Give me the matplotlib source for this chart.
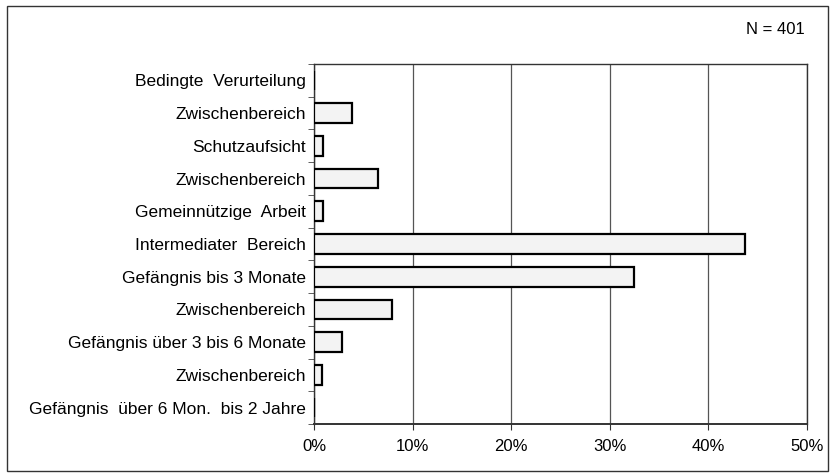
import matplotlib
matplotlib.use("Agg")
import matplotlib.pyplot as plt
import numpy as np
from matplotlib.patches import Rectangle

categories = [
    "Bedingte  Verurteilung",
    "Zwischenbereich",
    "Schutzaufsicht",
    "Zwischenbereich",
    "Gemeinnützige  Arbeit",
    "Intermediater  Bereich",
    "Gefängnis bis 3 Monate",
    "Zwischenbereich",
    "Gefängnis über 3 bis 6 Monate",
    "Zwischenbereich",
    "Gefängnis  über 6 Mon.  bis 2 Jahre",
]
values = [0.0, 3.9, 0.9, 6.5, 0.9, 43.7, 32.5, 7.9, 2.8, 0.8, 0.0]
xticks = [0, 10, 20, 30, 40, 50]
xticklabels = ["0%", "10%", "20%", "30%", "40%", "50%"]
note = "N = 401"

plt.rcParams['font.family'] = ['Liberation Sans', 'DejaVu Sans']

W, H = 830, 473
fig = plt.figure(figsize=(W / 100, H / 100), dpi=100)
ax = fig.add_axes([314 / W, 1 - 424 / H, (807 - 314) / W, (424 - 64) / H])

y = np.arange(len(categories))
ax.barh(y, values, height=0.6, color="#f3f3f3", edgecolor="black", linewidth=1.6, zorder=3)

ax.set_xlim(0, 50)
ax.set_ylim(len(categories) - 0.5, -0.5)
ax.set_xticks(xticks)
ax.set_xticklabels(xticklabels, fontsize=12)
ax.set_yticks(y)
ax.set_yticklabels(categories, fontsize=12.5)
ax.tick_params(axis="y", length=0, pad=6)
ax.set_yticks(np.arange(-0.5, len(categories), 1.0), minor=True)
ax.tick_params(axis="y", which="minor", length=4, direction="out", color="#444444")
ax.tick_params(axis="x", length=4, direction="out", pad=7, color="#333333")
ax.grid(axis="x", color="#555555", linewidth=0.9, zorder=0)
for s in ax.spines.values():
    s.set_linewidth(1.0)
    s.set_color("#333333")
ax.spines["bottom"].set_linewidth(1.4)

fig.text(805 / W, 1 - 29 / H, note, ha="right", va="center", fontsize=12)

fig.patches.append(Rectangle((7 / W, 2 / H), 821 / W, 465 / H, transform=fig.transFigure,
                             fill=False, edgecolor="#333333", linewidth=1.0))

fig.savefig("out.png", dpi=100)
